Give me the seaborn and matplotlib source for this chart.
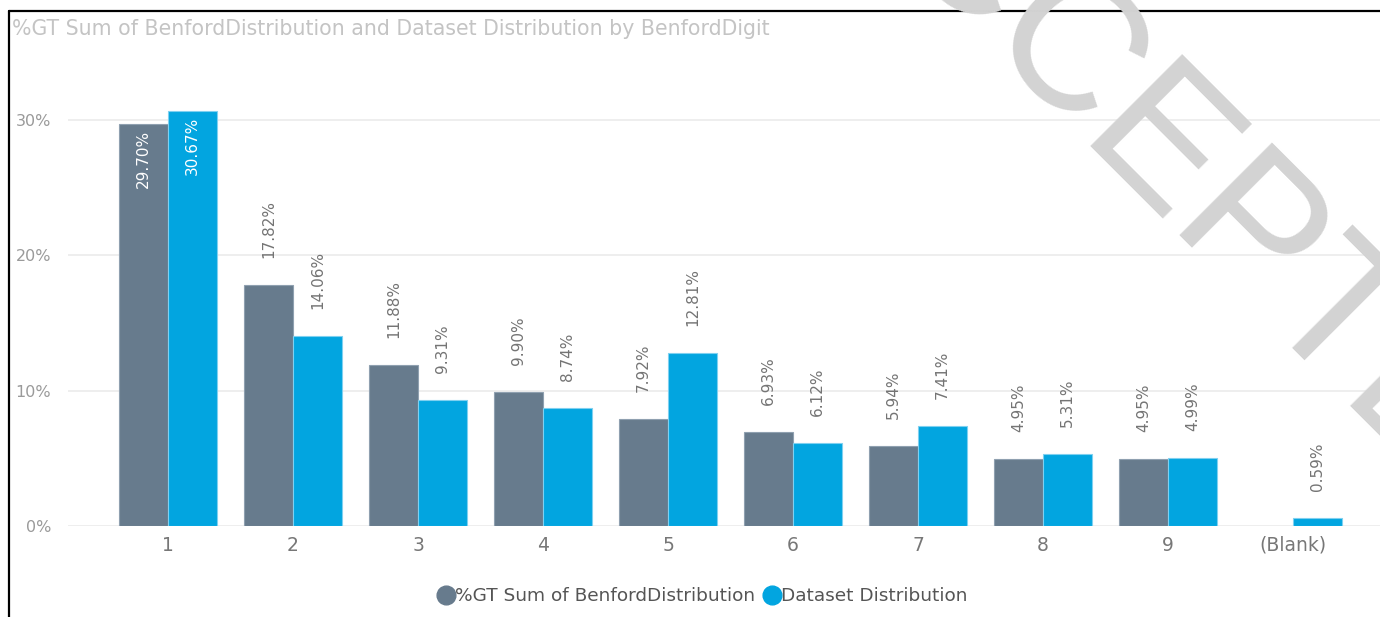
import matplotlib
matplotlib.use("Agg")
import matplotlib.pyplot as plt
from matplotlib.lines import Line2D
import seaborn as sns
import pandas as pd
import numpy as np

# ---- data ----
categories = ["1", "2", "3", "4", "5", "6", "7", "8", "9", "(Blank)"]
benford = [29.70, 17.82, 11.88, 9.90, 7.92, 6.93, 5.94, 4.95, 4.95, np.nan]
dataset = [30.67, 14.06, 9.31, 8.74, 12.81, 6.12, 7.41, 5.31, 4.99, 0.59]
series_names = ["%GT Sum of BenfordDistribution", "Dataset Distribution"]
y_ticks = [0, 10, 20, 30]
title = "%GT Sum of BenfordDistribution and Dataset Distribution by BenfordDigit"
watermark = "ACCEPTED"

colors = ["#677b8d", "#02a5e0"]
edge_colors = ["#8fa0b0", "#7fd0f0"]

df = pd.DataFrame({
    "Digit": categories * 2,
    "Series": [series_names[0]] * len(categories) + [series_names[1]] * len(categories),
    "Value": benford + dataset,
})

sns.set_theme(style="white")
plt.rcParams["font.family"] = ["DejaVu Sans"]

W, H = 1380, 617
fig = plt.figure(figsize=(W / 100, H / 100), dpi=100)
fig.patch.set_facecolor("white")

# axes placement in pixels
ax_left, ax_right, ax_bottom, ax_top = 68, 1380, 617 - 526, 617 - 50
ax = fig.add_axes([ax_left / W, ax_bottom / H, (ax_right - ax_left) / W, (ax_top - ax_bottom) / H])

sns.barplot(data=df, x="Digit", y="Value", hue="Series", order=categories,
            hue_order=series_names, palette=colors, width=0.784, saturation=1,
            ax=ax, legend=False)

for cont, ec in zip(ax.containers, edge_colors):
    for p in cont.patches:
        p.set_edgecolor(ec)
        p.set_linewidth(0.8)

px_per_unit = 135.3 / 10.0
ax.set_ylim(0, (526 - 50) / px_per_unit)
ax.set_xlim(-0.8, 9.696)
ax.set_yticks(y_ticks)
ax.set_yticklabels([f"{t}%" for t in y_ticks])
ax.yaxis.grid(True, color="#ebebeb", linewidth=1.2)
ax.set_axisbelow(True)
for s in ax.spines.values():
    s.set_visible(False)
ax.tick_params(axis="y", length=0, pad=12, labelsize=11.5, labelcolor="#9a9a9a")
ax.tick_params(axis="x", length=0, pad=7, labelsize=13.5, labelcolor="#777777")
ax.set_xlabel("")
ax.set_ylabel("")

# data labels
for cont in ax.containers:
    for p in cont.patches:
        h = p.get_height()
        if h is None or np.isnan(h) or h <= 0:
            continue
        xc = p.get_x() + p.get_width() / 2
        top_px = h * px_per_unit
        if top_px + 90 > (526 - 50):
            ax.annotate(f"{h:.2f}%", (xc, h), xytext=(0, -6), textcoords="offset pixels",
                        rotation=90, ha="center", va="top", fontsize=11,
                        color="white")
        else:
            ax.annotate(f"{h:.2f}%", (xc, h), xytext=(0, 27), textcoords="offset pixels",
                        rotation=90, ha="center", va="bottom", fontsize=11,
                        color="#747474")

# title
fig.text(12 / W, 1 - 29 / H, title, ha="left", va="center", fontsize=14.8, color="#c4c4c4")

# legend
handles = [Line2D([0], [0], marker="o", linestyle="none", markersize=13.5,
                  markerfacecolor=c, markeredgecolor=c) for c in colors]
fig.legend(handles, series_names, loc="center", bbox_to_anchor=(702 / W, 1 - 596 / H),
           ncol=2, frameon=False, fontsize=13.3, handletextpad=0.0, columnspacing=0.4,
           handlelength=1.0, labelcolor="#555555")

# frame lines (left and top)
fig.add_artist(Line2D([9 / W, 9 / W], [0, 1 - 11 / H], color="black", linewidth=1.6,
                      transform=fig.transFigure))
fig.add_artist(Line2D([9 / W, 1], [1 - 11 / H, 1 - 11 / H], color="black", linewidth=1.6,
                      transform=fig.transFigure))

# watermark
fig.text(797 / W, 1 + 146 / H, watermark, rotation=-45, rotation_mode="anchor",
         ha="left", va="baseline", fontsize=136, color="#d3d3d3",
         family="Liberation Sans", zorder=10)

fig.savefig("out.png", dpi=100)
